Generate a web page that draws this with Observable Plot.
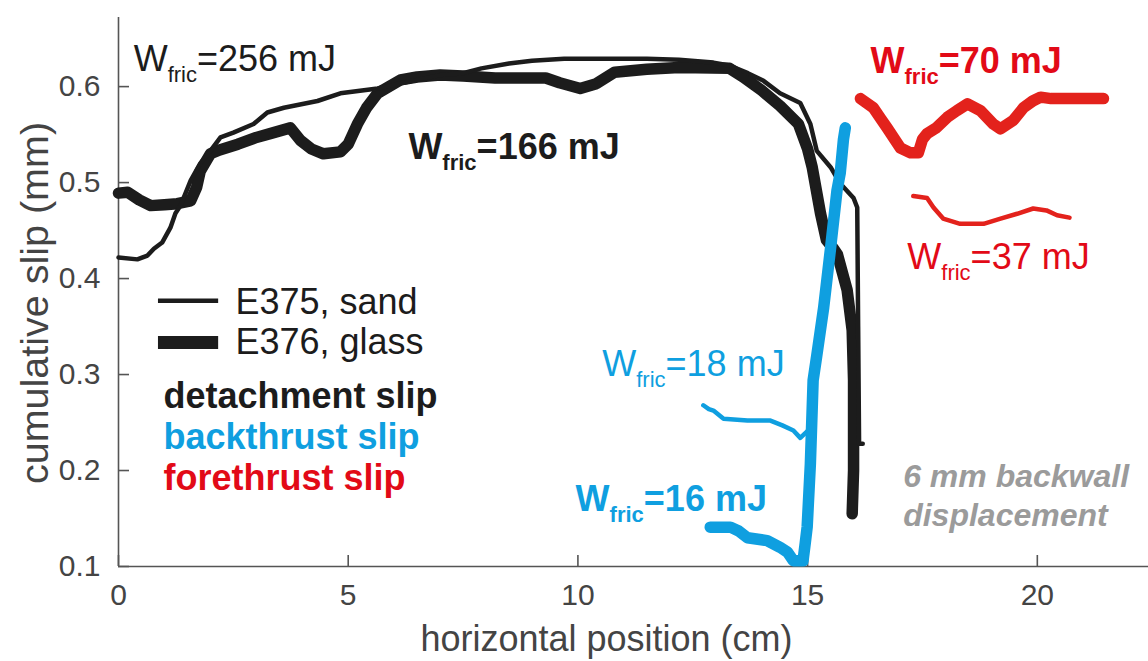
<!DOCTYPE html>
<html><head><meta charset="utf-8">
<script src="https://cdn.jsdelivr.net/npm/d3@7"></script>
<script src="https://cdn.jsdelivr.net/npm/@observablehq/plot@0.6"></script>
<style>
body{margin:0;background:#fff}
svg{font-family:"Liberation Sans",Arial,Helvetica,sans-serif}
</style>
</head><body><div id="chart"></div>
<script>
// ---------- tick values ----------
const xTicks = [0, 5, 10, 15, 20];
const yTicks = [0.1, 0.2, 0.3, 0.4, 0.5, 0.6];

// ---------- E375 (sand) detachment slip, thin black ----------
const sandDetX = [0, 0.41, 0.63, 0.77, 0.95, 1.13, 1.24, 1.35, 1.57, 1.78, 2.0, 2.22, 2.5, 2.94, 3.24, 3.6, 4.33, 4.83, 5.64, 6.0, 6.5, 7.0, 7.5, 7.9, 8.5, 9.0, 9.7, 10.5, 11.5, 12.2, 12.95, 13.3, 13.7, 14.04, 14.4, 14.84, 15.06, 15.2, 15.5, 15.71, 16.0, 16.08, 16.1, 16.12, 16.2];
const sandDetY = [0.422, 0.420, 0.424, 0.431, 0.4375, 0.453, 0.468, 0.476, 0.502, 0.520, 0.533, 0.547, 0.552, 0.561, 0.573, 0.578, 0.585, 0.593, 0.598, 0.602, 0.607, 0.612, 0.614, 0.619, 0.624, 0.627, 0.629, 0.629, 0.629, 0.628, 0.625, 0.622, 0.614, 0.606, 0.593, 0.583, 0.561, 0.533, 0.516, 0.499, 0.484, 0.474, 0.35, 0.228, 0.228];

// ---------- E376 (glass) detachment slip, thick black ----------
const glassDetX = [0, 0.2, 0.45, 0.7, 1.0, 1.28, 1.57, 1.7, 1.78, 2.0, 2.2, 2.6, 3.0, 3.3, 3.74, 3.96, 4.2, 4.46, 4.83, 5.0, 5.2, 5.4, 5.64, 6.14, 6.5, 7.0, 7.5, 8.2, 9.3, 9.6, 10.05, 10.4, 10.8, 11.5, 12.2, 13.3, 13.6, 14.0, 14.4, 14.8, 15.0, 15.1, 15.28, 15.41, 15.55, 15.65, 15.86, 15.97, 16.0, 16.0, 15.97];
const glassDetY = [0.489, 0.490, 0.482, 0.476, 0.477, 0.478, 0.481, 0.495, 0.512, 0.530, 0.534, 0.540, 0.547, 0.551, 0.557, 0.544, 0.535, 0.530, 0.532, 0.540, 0.561, 0.578, 0.593, 0.607, 0.610, 0.612, 0.611, 0.609, 0.609, 0.604, 0.598, 0.603, 0.615, 0.618, 0.620, 0.619, 0.610, 0.596, 0.580, 0.561, 0.535, 0.516, 0.468, 0.440, 0.432, 0.425, 0.388, 0.346, 0.294, 0.200, 0.155];

// ---------- E375 (sand) backthrust slip, thin blue, 18 mJ ----------
const sandBackX = [12.73, 12.85, 12.95, 13.17, 13.69, 14.19, 14.45, 14.69, 14.84, 15.06, 15.12, 15.35, 15.5, 15.64, 15.75];
const sandBackY = [0.268, 0.264, 0.2625, 0.254, 0.252, 0.252, 0.247, 0.2417, 0.234, 0.244, 0.294, 0.370, 0.432, 0.490, 0.535];

// ---------- E376 (glass) backthrust slip, thick blue, 16 mJ ----------
const glassBackX = [12.88, 13.32, 13.5, 13.69, 14.12, 14.4, 14.56, 14.69, 14.9, 14.95, 14.99, 15.06, 15.12, 15.2, 15.35, 15.5, 15.64, 15.71, 15.78, 15.82];
const glassBackY = [0.141, 0.141, 0.137, 0.130, 0.127, 0.120, 0.115, 0.106, 0.106, 0.125, 0.141, 0.207, 0.294, 0.320, 0.370, 0.432, 0.492, 0.510, 0.545, 0.557];

// ---------- E375 (sand) forethrust slip, thin red, 37 mJ ----------
const sandForeX = [17.3, 17.6, 17.74, 17.95, 18.32, 18.83, 19.2, 19.56, 19.91, 20.2, 20.43, 20.7];
const sandForeY = [0.486, 0.484, 0.474, 0.4625, 0.457, 0.457, 0.4625, 0.4675, 0.473, 0.471, 0.466, 0.4635];

// ---------- E376 (glass) forethrust slip, thick red, 70 mJ ----------
const glassForeX = [16.15, 16.43, 16.6, 16.73, 17.02, 17.24, 17.41, 17.5, 17.6, 17.8, 18.04, 18.25, 18.48, 18.76, 19.04, 19.2, 19.48, 19.7, 19.9, 20.07, 20.3, 21.44];
const glassForeY = [0.5875, 0.578, 0.566, 0.557, 0.536, 0.531, 0.531, 0.545, 0.551, 0.557, 0.568, 0.575, 0.582, 0.575, 0.561, 0.556, 0.565, 0.578, 0.585, 0.589, 0.5875, 0.5875];

// ---------- texts ----------
const wfricLabels = ["W_fric=256 mJ", "W_fric=166 mJ", "W_fric=70 mJ", "W_fric=37 mJ", "W_fric=18 mJ", "W_fric=16 mJ"];
const legendLabels = ["E375, sand", "E376, glass"];
const slipLabels = ["detachment slip", "backthrust slip", "forethrust slip"];
const noteLabel = "6 mm backwall\ndisplacement";
const xLabel = "horizontal position (cm)";
const yLabel = "cumulative slip (mm)";

// ---------- styles ----------
const BLACK = "#1c1c1c", BLUE = "#0f9fe0", RED = "#e3221c", RED_T = "#e20a17", GRAY = "#9b9b9b", AXIS = "#555", TICKTXT = "#444";
const THIN = 4.5, THICK = 11.5;
const pts = (xs, ys) => xs.map((x, i) => ({x, y: ys[i]}));
const lineOpts = (stroke, w) => ({x: "x", y: "y", stroke, strokeWidth: w, strokeLinejoin: "round", strokeLinecap: "round"});

const label = (txt, x, y, fill, weight) => Plot.text([txt], {text: d => d, x, y, fill, fontWeight: weight, fontSize: 36, textAnchor: "start", lineAnchor: "bottom"});

const chart = Plot.plot({
  width: 1148,
  height: 661,
  marginLeft: 118,
  marginRight: 0,
  marginTop: 17,
  marginBottom: 95,
  x: {domain: [0, 22.42]},
  y: {domain: [0.1, 0.672]},
  style: {background: "#fff", fontFamily: "'Liberation Sans', Arial, Helvetica, sans-serif"},
  marks: [
    // axis lines
    Plot.ruleX([0], {stroke: AXIS, strokeWidth: 1.6}),
    Plot.ruleY([0.1], {stroke: AXIS, strokeWidth: 1.6}),
    // inward ticks
    Plot.axisY(yTicks, {anchor: "left", tickSize: 11, dx: 11, fill: "none", stroke: AXIS, strokeWidth: 1.6, label: null}),
    Plot.axisX(xTicks, {anchor: "bottom", tickSize: 11, dy: -11, fill: "none", stroke: AXIS, strokeWidth: 1.6, label: null}),
    // tick labels
    Plot.axisY(yTicks, {anchor: "left", tickSize: 0, tickPadding: 18, fontSize: 30, fill: TICKTXT, label: null, tickFormat: d => d.toFixed(1)}),
    Plot.axisX(xTicks, {anchor: "bottom", tickSize: 0, tickPadding: 17, fontSize: 30, fill: TICKTXT, label: null, tickFormat: d => String(d)}),
    // axis titles
    Plot.text([xLabel], {text: d => d, frameAnchor: "bottom", textAnchor: "middle", dx: -27, dy: 84, lineAnchor: "bottom", fontSize: 36, fill: TICKTXT}),
    Plot.text([yLabel], {text: d => d, frameAnchor: "left", textAnchor: "middle", dx: -71, dy: 11, rotate: -90, lineAnchor: "bottom", fontSize: 39.5, fill: TICKTXT}),

    // data lines
    Plot.line(pts(glassDetX, glassDetY), lineOpts(BLACK, THICK)),
    Plot.line(pts(sandDetX, sandDetY), lineOpts(BLACK, THIN)),
    Plot.line(pts(sandBackX, sandBackY), lineOpts(BLUE, THIN)),
    Plot.line(pts(glassBackX, glassBackY), lineOpts(BLUE, THICK)),
    Plot.line(pts(glassForeX, glassForeY), lineOpts(RED, THICK)),
    Plot.line(pts(sandForeX, sandForeY), lineOpts(RED, THIN)),

    // W_fric annotations
    label(wfricLabels[0], 0.33, 0.6167, BLACK, "normal"),
    label(wfricLabels[1], 6.31, 0.525, BLACK, "bold"),
    label(wfricLabels[2], 16.37, 0.6146, RED_T, "bold"),
    label(wfricLabels[3], 17.17, 0.4104, RED_T, "normal"),
    label(wfricLabels[4], 10.53, 0.299, BLUE, "normal"),
    label(wfricLabels[5], 9.95, 0.1583, BLUE, "bold"),

    // legend
    Plot.ruleY([0.377], {x1: 0.87, x2: 2.18, stroke: BLACK, strokeWidth: THIN}),
    Plot.ruleY([0.3333], {x1: 0.87, x2: 2.18, stroke: BLACK, strokeWidth: 13}),
    label(legendLabels[0], 2.546, 0.3635, BLACK, "normal"),
    label(legendLabels[1], 2.546, 0.3219, BLACK, "normal"),
    label(slipLabels[0], 0.98, 0.2656, BLACK, "bold"),
    label(slipLabels[1], 0.98, 0.2229, BLUE, "bold"),
    label(slipLabels[2], 0.98, 0.1792, RED_T, "bold"),

    // note
    Plot.text([noteLabel], {text: d => d, x: 17.08, y: 0.1417, fill: GRAY, fontSize: 32, fontWeight: "bold", fontStyle: "italic", textAnchor: "start", lineAnchor: "bottom", lineHeight: 1.22})
  ]
});

// turn "W_fric" into W with subscript "fric"
const NS = "http://www.w3.org/2000/svg";
chart.querySelectorAll("text").forEach(t => {
  const m = /^W_fric(.*)$/.exec(t.textContent);
  if (!m) return;
  t.textContent = "";
  const a = document.createElementNS(NS, "tspan"); a.textContent = "W";
  const b = document.createElementNS(NS, "tspan"); b.textContent = "fric";
  b.setAttribute("font-size", 22); b.setAttribute("dy", 11);
  const c = document.createElementNS(NS, "tspan"); c.textContent = m[1];
  c.setAttribute("dy", -11);
  t.append(a, b, c);
});

document.getElementById("chart").append(chart);
</script>
</body></html>
